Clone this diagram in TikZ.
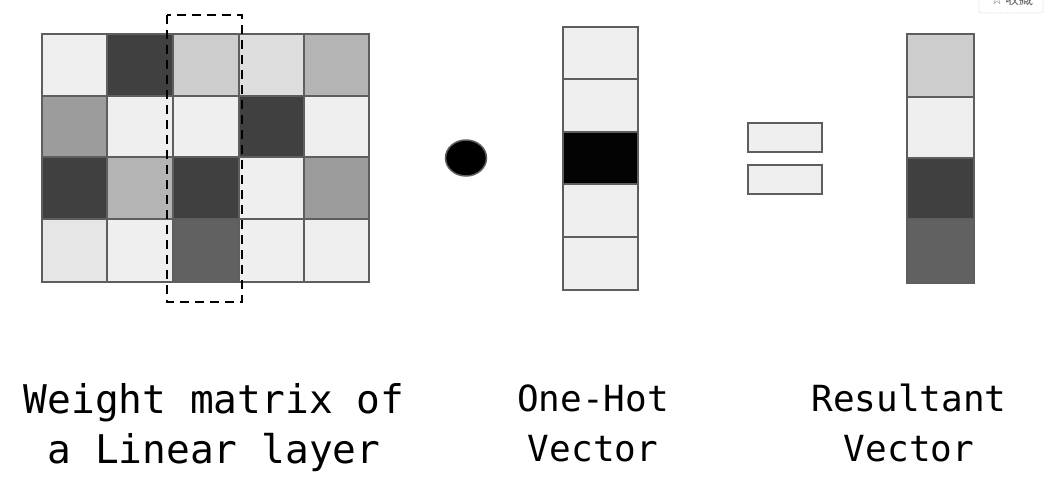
\documentclass[tikz,border=0pt]{standalone}
\usepackage{fontspec}
\setmonofont{DejaVu Sans Mono}
\newfontfamily\cjkfont{Noto Sans CJK SC}
\newfontfamily\symfont{DejaVu Sans}
\definecolor{cL}{HTML}{EFEFEF}
\definecolor{cD}{HTML}{404040}
\definecolor{cM}{HTML}{B4B4B4}
\definecolor{cP}{HTML}{CDCDCD}
\definecolor{cQ}{HTML}{DEDEDE}
\definecolor{cG}{HTML}{9C9C9C}
\definecolor{cV}{HTML}{E6E6E6}
\definecolor{cS}{HTML}{616161}
\definecolor{cK}{HTML}{030303}
\definecolor{cBorder}{HTML}{5E5E5E}
\begin{document}
\begin{tikzpicture}[x=1pt,y=-1pt,
  cellbox/.style={draw=cBorder, line width=2pt},
  biglbl/.style={font=\ttfamily\fontsize{39.5}{47}\selectfont, inner sep=0pt, anchor=base},
  smalllbl/.style={font=\ttfamily\fontsize{36}{43}\selectfont, inner sep=0pt, anchor=base},
  selbox/.style={draw=black, line width=2.4pt, dash pattern=on 9pt off 6pt}]
\useasboundingbox (0,0) rectangle (1062,499);
\fill[white] (0,0) rectangle (1062,499);
% weight matrix
\foreach \xa/\ya/\xb/\yb/\cc in {
  42/34/107/96/cL, 107/34/173/96/cD, 173/34/239/96/cP, 239/34/304/96/cQ, 304/34/369/96/cM,
  42/96/107/157/cG, 107/96/173/157/cL, 173/96/239/157/cL, 239/96/304/157/cD, 304/96/369/157/cL,
  42/157/107/219/cD, 107/157/173/219/cM, 173/157/239/219/cD, 239/157/304/219/cL, 304/157/369/219/cG,
  42/219/107/282/cV, 107/219/173/282/cL, 173/219/239/282/cS, 239/219/304/282/cL, 304/219/369/282/cL}
  \filldraw[cellbox, fill=\cc] (\xa,\ya) rectangle (\xb,\yb);
\draw[selbox] (167,15) rectangle (242,302);
% dot operator
\filldraw[fill=black, draw=cBorder, line width=1.5pt] (466,158) ellipse [x radius=20.5, y radius=18];
% one-hot vector
\foreach \ya/\yb/\cc in {27/79/cL, 79/132/cL, 132/184/cK, 184/237/cL, 237/290/cL}
  \filldraw[cellbox, fill=\cc] (563,\ya) rectangle (638,\yb);
% equals sign
\filldraw[cellbox, fill=cL] (748,123) rectangle (822,152);
\filldraw[cellbox, fill=cL] (748,165) rectangle (822,194);
% resultant vector
\foreach \ya/\yb/\cc in {34/97/cP, 97/158/cL, 158/219/cD, 219/283/cS}
  \filldraw[cellbox, fill=\cc] (907,\ya) rectangle (974,\yb);
% labels
\node[biglbl] (w1) at (214,413) {Weight matrix of};
\node[biglbl] (w2) at (214,463) {a Linear layer};
\node[smalllbl] (o1) at (593,411) {One-Hot};
\node[smalllbl] (o2) at (593,461) {Vector};
\node[smalllbl] (r1) at (909,411) {Resultant};
\node[smalllbl] (r2) at (909,461) {Vector};
% bookmark button (clipped at top)
\begin{scope}
\clip (0,0) rectangle (1062,499);
\draw[draw=gray!35, line width=0.8pt, densely dotted, rounded corners=2pt] (979,-14) rectangle (1043,13);
\node[text=gray!80!black, inner sep=0pt] (bk) at (1012,-1) {{\symfont\fontsize{14}{14}\selectfont ☆}\,{\cjkfont\fontsize{14}{14}\selectfont 收藏}};
\end{scope}
\end{tikzpicture}
\end{document}
